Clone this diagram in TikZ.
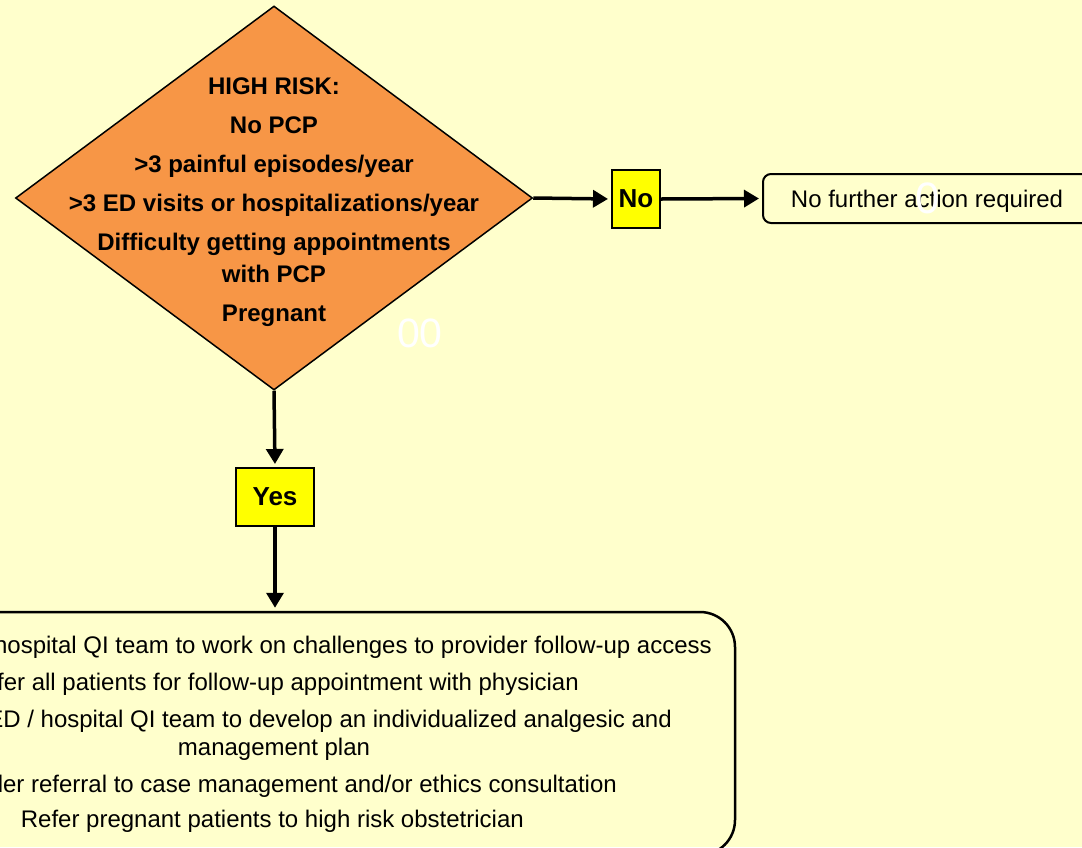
\documentclass[tikz,border=0pt]{standalone}
\usepackage{fontspec}
\setmainfont{Liberation Sans}
\usetikzlibrary{shapes.geometric,arrows.meta,positioning}
\definecolor{bgyellow}{RGB}{255,255,204}
\definecolor{riskorange}{RGB}{247,150,70}
\definecolor{answeryellow}{RGB}{255,255,0}

\begin{document}
\begin{tikzpicture}[x=1pt,y=-1pt,
  risk/.style={diamond,draw,line width=1.5pt,fill=riskorange,inner sep=0pt,
    minimum width=517pt,minimum height=384pt},
  answer/.style={draw,line width=2pt,fill=answeryellow,inner sep=0pt,
    font=\bfseries\fontsize{26}{30}\selectfont,minimum height=58pt},
  actionbox/.style={draw,line width=2pt,inner sep=0pt},
  flow/.style={line width=3.5pt,-{Triangle[length=15pt,width=17pt]},shorten >=3pt},
  plantext/.style={inner sep=0pt,font=\fontsize{24}{28}\selectfont},
  ghost/.style={text=white,inner sep=0pt}]
\useasboundingbox (0,0) rectangle (1082,847);
\fill[bgyellow] (0,0) rectangle (1082,847);
\clip (0,0) rectangle (1082,847);

% decision
\node[risk] (risk) at (274,198) {};
\node[align=center,inner sep=0pt,font=\bfseries\fontsize{24}{32}\selectfont] (risktext) at (274,202)
  {HIGH RISK:\\[7pt] No PCP\\[7pt] >3 painful episodes/year\\[7pt] >3 ED visits or hospitalizations/year\\[7pt]
   Difficulty getting appointments\\ with PCP\\[7pt] Pregnant};

% no branch
\node[answer,minimum width=48pt] (no) at (636,199) {No};
\node[actionbox,rounded corners=8pt,minimum width=328pt,minimum height=49pt] (noaction) at (927,198.5) {};
\node[plantext] (noactiontext) at (927,201) {No further action required};

% yes branch
\node[answer,minimum width=78pt] (yes) at (275,497) {Yes};
\node[actionbox,line width=2.5pt,rounded corners=35pt,minimum width=920pt,minimum height=243pt] (plan) at (275,733.5) {};

\node[plantext,anchor=base east] (todo1) at (712,653) {hospital QI team to work on challenges to provider follow-up access};
\node[plantext,anchor=base east] (todo2) at (579,690) {fer all patients for follow-up appointment with physician};
\node[plantext,anchor=base east] (todo3) at (672,727) {ED / hospital QI team to develop an individualized analgesic and};
\node[plantext,anchor=base] (todo3b) at (274,755) {management plan};
\node[plantext,anchor=base east] (todo4) at (617,792) {der referral to case management and/or ethics consultation};
\node[plantext,anchor=base east] (todo5) at (524,827) {Refer pregnant patients to high risk obstetrician};

\draw[flow] (risk.east) -- (no.west);
\draw[flow] (no.east) -- (noaction.west);
\draw[flow] (risk.south) -- (yes.north);
\draw[flow] (yes.south) -- (plan.north);

% stray white digits
\node[ghost,font=\fontsize{41}{41}\selectfont] (ghost1) at (420,333) {00};
\node[ghost,font=\fontsize{44}{44}\selectfont] (ghost2) at (928,198) {0};
\end{tikzpicture}
\end{document}
